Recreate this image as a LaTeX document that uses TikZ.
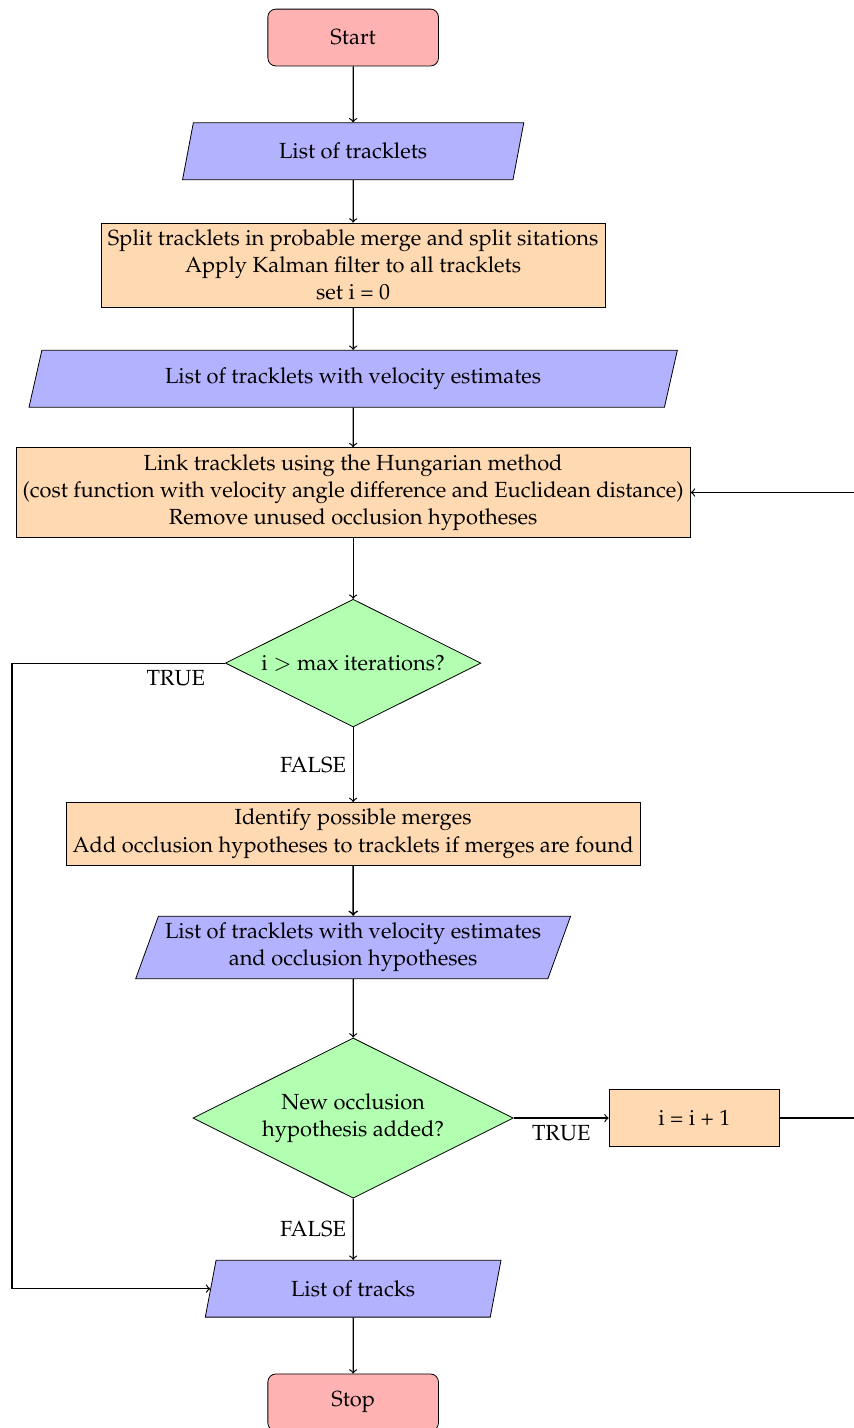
\documentclass[tikz,border=0pt]{standalone}
\usepackage[T1]{fontenc}
\usepackage{mathpazo}
\usetikzlibrary{shapes.geometric}

\tikzset{
  base/.style={draw, font=\fontsize{10.95}{13.6}\selectfont, align=center},
  startstop/.style={base, rectangle, rounded corners, minimum width=3cm, minimum height=1cm, fill=red!30},
  io/.style={base, trapezium, trapezium left angle=70, trapezium right angle=110,
    trapezium stretches body, minimum height=1cm, fill=blue!30},
  process/.style={base, rectangle, minimum width=3cm, minimum height=1cm, fill=orange!30},
  decision/.style={base, diamond, shape aspect=2, fill=green!30},
  flow/.style={->, semithick},
  lbl/.style={font=\fontsize{10.95}{13.6}\selectfont},
}

\begin{document}
\begin{tikzpicture}
  \useasboundingbox (-6.21,0.66) rectangle (8.79,-24.45);

  % main column
  \node[startstop] (start) at (0,0) {Start};
  \node[io, minimum width=6cm] (list1) at (0,-2) {List of tracklets};
  \node[process] (split) at (0,-4) {Split tracklets in probable merge and split sitations\\
    Apply Kalman filter to all tracklets\\ set i = 0};
  \node[io, minimum width=11.4cm] (list2) at (0,-6) {List of tracklets with velocity estimates};
  \node[process] (link) at (0,-8) {Link tracklets using the Hungarian method\\
    (cost function with velocity angle difference and Euclidean distance)\\
    Remove unused occlusion hypotheses};
  \node[decision] (dec1) at (0,-11) {i $>$ max iterations?};
  \node[process] (ident) at (0,-14) {Identify possible merges\\
    Add occlusion hypotheses to tracklets if merges are found};
  \node[io] (list3) at (0,-16) {List of tracklets with velocity estimates\\ and occlusion hypotheses};
  \node[decision] (dec2) at (0,-19) {New occlusion\\ hypothesis added?};
  \node[process] (inc) at (6,-19) {i = i + 1};
  \node[io, minimum width=5.2cm] (tracks) at (0,-22) {List of tracks};
  \node[startstop] (stop) at (0,-24) {Stop};

  % side rails of the two loops
  \coordinate (leftx) at (-6,0);
  \coordinate (rightx) at (8.9,0);

  % connectors
  \draw[flow] (start) -- (list1);
  \draw[flow] (list1) -- (split);
  \draw[flow] (split) -- (list2);
  \draw[flow] (list2) -- (link);
  \draw[flow] (link) -- (dec1);
  \draw[flow] (dec1) -- node[lbl, left] {FALSE} (ident);
  \draw[flow, thick] (ident) -- (list3);
  \draw[flow] (list3) -- (dec2);
  \draw[flow] (dec2) -- node[lbl, left] {FALSE} (tracks);
  \draw[flow] (dec2) -- node[lbl, below] {TRUE} (inc);
  \draw[flow] (tracks) -- (stop);
  \draw[flow] (inc.east) -- (inc.east -| rightx) |- (link.east);
  \draw[flow] (dec1.west) -- (dec1.west -| leftx) |- (tracks.west);
  \node[lbl, below] (t1) at (-3.12,-11) {TRUE};
\end{tikzpicture}
\end{document}
